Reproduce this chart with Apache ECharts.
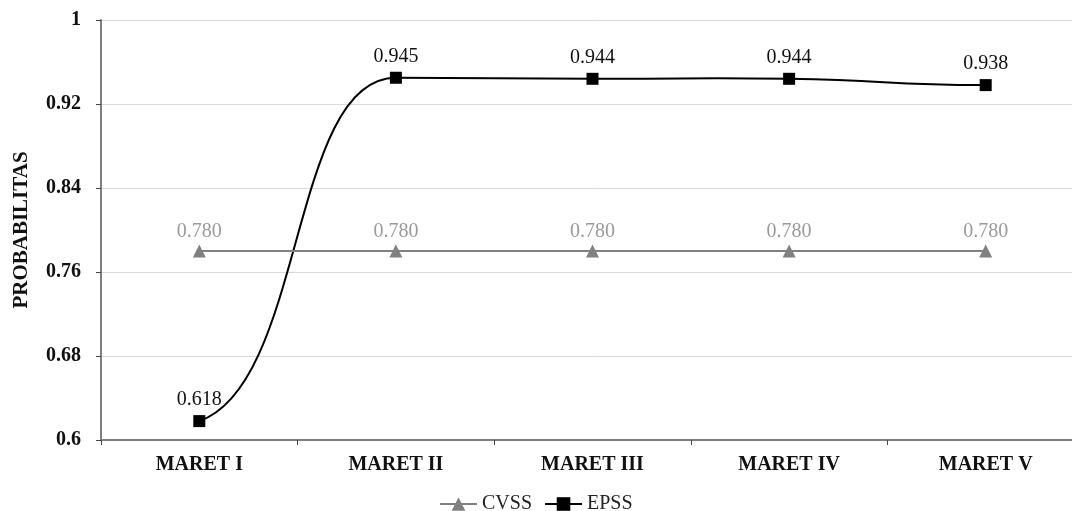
<!DOCTYPE html>
<html><head><meta charset="utf-8">
<script src="https://cdn.jsdelivr.net/npm/echarts@6/dist/echarts.min.js"></script>
<style>html,body{margin:0;padding:0;background:#fff;overflow:hidden;width:1072px;height:511px}#c{width:1084px;height:511px}</style>
</head><body><div id="c"></div>
<script>
const categories = ['MARET I','MARET II','MARET III','MARET IV','MARET V'];
const cvss = [0.780,0.780,0.780,0.780,0.780];
const epss = [0.618,0.945,0.944,0.944,0.938];
const yTicks = [0.6,0.68,0.76,0.84,0.92,1];
const F = '"Liberation Serif","Times New Roman",serif';
const chart = echarts.init(document.getElementById('c'));

// Excel-like smoothed curve drawn through the library's coordinate system
function slopes(pts){
  const n = pts.length, m = [];
  for (let i=0;i<n;i++){
    if (i===0) m.push(0.2*(pts[1][1]-pts[0][1])/(pts[1][0]-pts[0][0]));
    else if (i===n-1) m.push(0.2*(pts[n-1][1]-pts[n-2][1])/(pts[n-1][0]-pts[n-2][0]));
    else {
      const a = pts[i][1]-pts[i-1][1], b = pts[i+1][1]-pts[i][1];
      if (a*b < 0) m.push(0);
      else m.push((pts[i+1][1]-pts[i-1][1])/(pts[i+1][0]-pts[i-1][0]));
    }
  }
  return m;
}
const ARM = 0.54;
function renderSeg(params, api){
  const i = params.dataIndex;
  const pts = epss.map((v,j)=>api.coord([j,v]));
  const m = slopes(pts);
  const p0 = pts[i], p1 = pts[i+1], dx = (p1[0]-p0[0])*ARM;
  return {type:'bezierCurve', shape:{x1:p0[0],y1:p0[1],x2:p1[0],y2:p1[1],
    cpx1:p0[0]+dx, cpy1:p0[1]+m[i]*dx, cpx2:p1[0]-dx, cpy2:p1[1]-m[i+1]*dx},
    style:{stroke:'#000',lineWidth:2,fill:null}};
}

chart.setOption({
  animation:false,
  grid:{left:101,right:0,top:20,height:420,containLabel:false},
  legend:{top:489,left:434,itemGap:12,itemWidth:37,itemHeight:17,
    textStyle:{fontFamily:F,fontSize:20,color:'#222'},
    data:[{name:'CVSS'},{name:'EPSS',lineStyle:{opacity:1,width:2,color:'#000'}}]},
  xAxis:{type:'category',data:categories,boundaryGap:true,
    axisLine:{lineStyle:{color:'#7f7f7f',width:2}},
    axisTick:{show:true,length:5,lineStyle:{color:'#444'},alignWithLabel:false},
    axisLabel:{fontFamily:F,fontSize:20,fontWeight:'bold',color:'#111',margin:15}},
  yAxis:{type:'value',min:0.6,max:1,interval:0.08,
    name:'PROBABILITAS',nameLocation:'middle',nameGap:69,nameRotate:90,
    nameTextStyle:{fontFamily:F,fontSize:21,fontWeight:'bold',color:'#111'},
    axisLine:{show:true,lineStyle:{color:'#7f7f7f',width:2}},
    axisTick:{show:true,length:5,lineStyle:{color:'#444'}},
    splitLine:{lineStyle:{color:'#d9d9d9',width:1}},
    axisLabel:{fontFamily:F,fontSize:20,fontWeight:'bold',color:'#111',margin:20,
      formatter:function(v){const t=yTicks.find(x=>Math.abs(x-v)<1e-9);return t===undefined?'':String(t);}}},
  series:[
    {name:'CVSS',type:'line',data:cvss,symbol:'triangle',symbolSize:13,
      itemStyle:{color:'#808080'},lineStyle:{color:'#808080',width:2},
      label:{show:true,position:'top',distance:3,fontFamily:F,fontSize:20,color:'#9a9a9a',
        formatter:p=>p.value.toFixed(3)}},
    {name:'EPSS-curve',type:'custom',renderItem:renderSeg,silent:true,z:2,
      data:epss.slice(0,-1).map((v,i)=>[i,v]),encode:{x:0,y:1}},
    {name:'EPSS',type:'line',data:epss,symbol:'rect',symbolSize:12,z:3,
      itemStyle:{color:'#000'},lineStyle:{color:'#000',width:2,opacity:0},
      label:{show:true,position:'top',distance:5,fontFamily:F,fontSize:20,color:'#111',
        formatter:p=>p.value.toFixed(3)}}
  ]
});
</script></body></html>
